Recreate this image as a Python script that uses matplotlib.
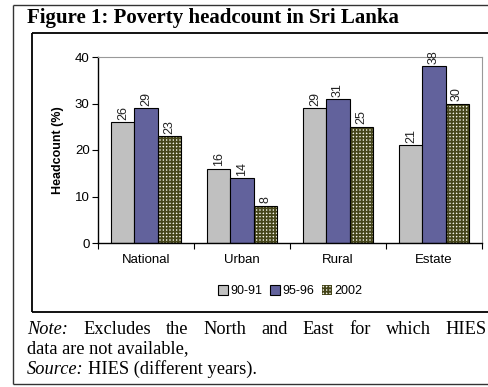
import matplotlib.pyplot as plt
import numpy as np
from matplotlib.lines import Line2D

categories = ['National', 'Urban', 'Rural', 'Estate']
series = ['90-91', '95-96', '2002']
v9091 = [26, 16, 29, 21]
v9596 = [29, 14, 31, 38]
v2002 = [23, 8, 25, 30]

plt.rcParams['font.family'] = ['Liberation Sans', 'DejaVu Sans']
plt.rcParams['hatch.linewidth'] = 1.3

fig = plt.figure(figsize=(4.89, 3.87), dpi=100)
W, H = 489.0, 387.0
serif = 'Liberation Serif'
fs_note = 13.2


def frame_line(xs, ys, **kw):
    # pixel coords (top-left origin) -> figure fraction
    fig.add_artist(Line2D([v / W for v in xs], [1 - v / H for v in ys],
                          transform=fig.transFigure, solid_capstyle='butt', **kw))


# outer frame (open on the right)
frame_line([13, 489], [5, 5], color='#333333', lw=1.0)
frame_line([13, 13], [5, 384], color='#333333', lw=1.0)
frame_line([13, 489], [384, 384], color='#333333', lw=1.0)
# inner chart frame
frame_line([32, 489], [33, 33], color='black', lw=1.3)
frame_line([32, 32], [33, 312], color='black', lw=1.3)
frame_line([32, 489], [312, 312], color='black', lw=1.3)

fig.text(27/W, 1 - 18/H, 'Figure 1: Poverty headcount in Sri Lanka', family=serif,
         weight='bold', fontsize=15, va='center', ha='left')

ax = fig.add_axes([98/W, 1 - 243/H, 384/W, 186/H])
x = np.arange(len(categories))
bw = 0.24
b1 = ax.bar(x - bw, v9091, bw, color='#c0c0c0', edgecolor='black', lw=0.8)
b2 = ax.bar(x, v9596, bw, color='#62629c', edgecolor='black', lw=0.8)
b3 = ax.bar(x + bw, v2002, bw, color='#f2f2e6', edgecolor='#45451a', hatch='+++++', lw=0)
ax.bar(x + bw, v2002, bw, fill=False, edgecolor='black', lw=0.8)

for bars, vals in [(b1, v9091), (b2, v9596), (b3, v2002)]:
    for b, v in zip(bars, vals):
        ax.text(b.get_x() + b.get_width()/2, v + 0.5, str(v), rotation=90,
                ha='center', va='bottom', fontsize=9, color='#222222')

ax.set_xlim(-0.5, 3.5)
ax.set_ylim(0, 40)
ax.set_yticks([0, 10, 20, 30, 40])
ax.set_xticks(np.arange(-0.5, 4, 1))
ax.set_xticklabels([])
ax.tick_params(axis='x', length=4, direction='out')
for i, c in enumerate(categories):
    ax.text(i, -2.3, c, ha='center', va='top', fontsize=9.5)
ax.tick_params(axis='y', labelsize=9.5, length=4, pad=2)
ax.set_ylabel('Headcount (%)', fontsize=9, weight='bold', labelpad=8)
ax.spines['top'].set_color('#999999')
ax.spines['right'].set_color('#999999')
ax.spines['left'].set_linewidth(1.0)
ax.spines['bottom'].set_linewidth(1.0)

ax.legend([b1[0], b2[0], b3[0]], series, loc='center', bbox_to_anchor=(0.5, (243 - 291)/186),
          ncol=3, frameon=False, fontsize=9, handlelength=0.8, handleheight=0.8,
          handletextpad=0.2, columnspacing=0.6)

# justified first line of the note
r = fig.canvas.get_renderer()
line1 = [('Note:', 'italic'), ('Excludes', 'normal'), ('the', 'normal'), ('North', 'normal'),
         ('and', 'normal'), ('East', 'normal'), ('for', 'normal'), ('which', 'normal'),
         ('HIES', 'normal')]
t_objs = [fig.text(0, 1 - 329/H, w, family=serif, style=s, fontsize=fs_note, va='center')
          for w, s in line1]
widths = [t.get_window_extent(r).width for t in t_objs]
gap = (487 - 27 - sum(widths)) / (len(line1) - 1)
pos = 27
for t, wd in zip(t_objs, widths):
    t.set_x(pos / W)
    pos += wd + gap

fig.text(27/W, 1 - 349/H, 'data are not available,', family=serif, fontsize=fs_note,
         va='center')
src = fig.text(27/W, 1 - 369/H, 'Source:', family=serif, style='italic', fontsize=fs_note,
               va='center')
sw = src.get_window_extent(r).width
fig.text((27 + sw + 4)/W, 1 - 369/H, 'HIES (different years).', family=serif,
         fontsize=fs_note, va='center')

fig.savefig('out.png', dpi=100)
